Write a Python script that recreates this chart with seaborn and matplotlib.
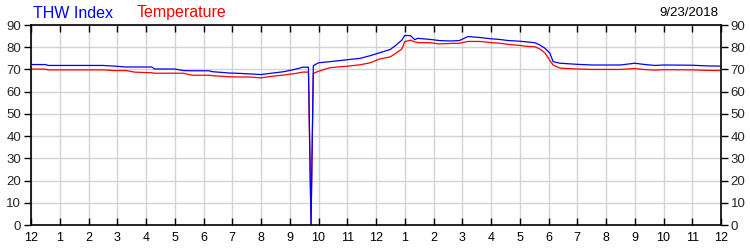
import matplotlib
matplotlib.use("Agg")
import matplotlib.pyplot as plt
import seaborn as sns
import pandas as pd

hours = [0.0, 0.5, 0.6, 1.5, 2.5, 2.9, 3.3, 3.6, 4.2, 4.3, 5.0, 5.3, 5.6, 6.2, 6.3, 6.9,
         7.3, 7.6, 8.0, 8.3, 8.8, 9.2, 9.45, 9.65, 9.74, 9.82, 10.0, 10.4, 10.95, 11.45,
         11.8, 12.1, 12.5, 12.7, 12.9, 13.0, 13.2, 13.35, 13.45, 13.9, 14.2, 14.6, 14.9,
         15.2, 15.6, 16.0, 16.3, 16.6, 17.0, 17.25, 17.53, 17.7, 17.88, 18.05, 18.16,
         18.4, 19.0, 19.5, 20.5, 21.0, 21.3, 21.7, 22.0, 23.0, 23.5, 24.0]
thw = [72.2, 72.2, 71.8, 71.8, 71.8, 71.5, 71.1, 71.1, 71.1, 70.2, 70.2, 69.5, 69.4, 69.4,
       69.0, 68.4, 68.2, 68.0, 67.7, 68.2, 69.0, 70.1, 71.0, 71.0, 0.0, 71.7, 73.0, 73.5,
       74.3, 75.0, 76.2, 77.4, 79.0, 81.0, 83.2, 85.3, 85.2, 83.4, 84.0, 83.5, 83.0, 82.8,
       83.0, 84.8, 84.4, 83.8, 83.5, 83.0, 82.7, 82.4, 82.0, 81.0, 79.5, 77.3, 73.5,
       72.8, 72.3, 72.0, 72.0, 72.8, 72.3, 71.8, 72.0, 71.9, 71.6, 71.5]
temp = [70.2, 70.1, 69.8, 69.8, 69.8, 69.5, 69.5, 68.8, 68.5, 68.3, 68.3, 68.3, 67.4, 67.4,
        67.2, 66.7, 66.6, 66.6, 66.2, 66.8, 67.5, 68.2, 68.8, 68.8, 0.0, 68.2, 69.2, 70.8,
        71.4, 72.1, 73.0, 74.6, 75.7, 77.4, 79.2, 82.5, 83.2, 82.4, 82.1, 82.0, 81.5, 81.7,
        81.8, 82.6, 82.6, 82.1, 81.8, 81.3, 80.8, 80.4, 80.2, 79.2, 77.4, 74.0, 72.0,
        70.6, 70.2, 70.0, 70.0, 70.4, 70.0, 69.7, 69.9, 69.8, 69.6, 69.5]
tick_labels = ["12", "1", "2", "3", "4", "5", "6", "7", "8", "9", "10", "11",
               "12", "1", "2", "3", "4", "5", "6", "7", "8", "9", "10", "11", "12"]
series_names = ["THW Index", "Temperature"]
date_label = "9/23/2018"

df = pd.concat([
    pd.DataFrame({"hour": hours, "value": thw, "series": series_names[0]}),
    pd.DataFrame({"hour": hours, "value": temp, "series": series_names[1]}),
])

sns.set_style("white")
plt.rcParams["font.family"] = ["Liberation Sans", "DejaVu Sans"]

fig = plt.figure(figsize=(7.5, 2.5), dpi=100)
ax = fig.add_axes([31 / 750, 25 / 250, 690 / 750, 200 / 250])

sns.lineplot(data=df, x="hour", y="value", hue="series", ax=ax,
             hue_order=["Temperature", "THW Index"],
             palette={"THW Index": "#0000ff", "Temperature": "#ff0000"},
             linewidth=0.9, legend=False, estimator=None, sort=False)

ax.set_xlim(0, 24)
ax.set_ylim(0, 90)
ax.set_xticks(range(25))
ax.set_xticklabels(tick_labels)
ax.set_yticks(range(0, 91, 10))
ax.set_xlabel("")
ax.set_ylabel("")
ax.grid(True, color="#d3d3d3", linewidth=1)
ax.set_axisbelow(True)
for s in ax.spines.values():
    s.set_color("black")
    s.set_linewidth(1.2)

ax.tick_params(axis="x", direction="in", top=True, bottom=True, length=5,
               width=1, color="black", labelsize=9, pad=5, labelcolor="#000000")
ax.tick_params(axis="y", direction="out", left=True, right=True, labelright=True,
               length=5, width=1, color="black", labelsize=9.5, pad=2)

fig.text(33 / 750, 1 - 13 / 250, series_names[0], color="#0000ff", fontsize=11.5, va="center")
fig.text(137 / 750, 1 - 13 / 250, series_names[1], color="#ff0000", fontsize=11.5, va="center")
fig.text(718 / 750, 1 - 13 / 250, date_label, color="black", fontsize=9.5, va="center", ha="right")

fig.savefig("out.png", dpi=100)
